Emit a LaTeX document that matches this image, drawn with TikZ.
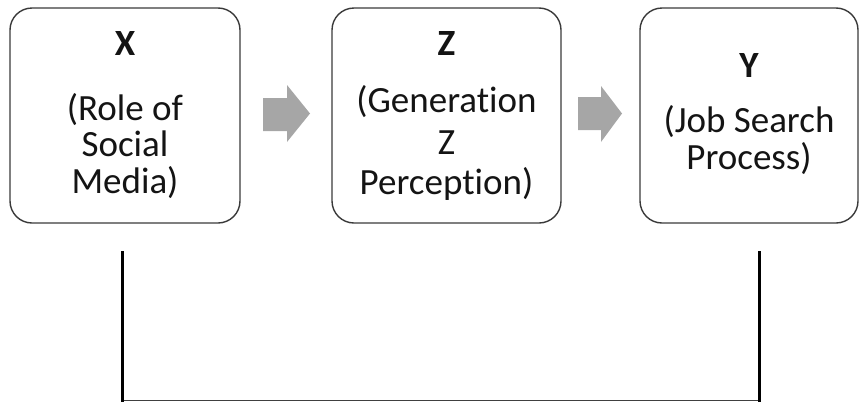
\documentclass[tikz,border=0pt]{standalone}
\usepackage{fontspec}
\setmainfont{Carlito}[Ligatures=NoCommon]
\definecolor{arrowgray}{HTML}{A6A6A6}
\definecolor{boxline}{HTML}{3A3A3A}
\definecolor{txt}{HTML}{141414}
\tikzset{
  box/.style={draw=boxline, line width=1.4pt, rounded corners=22pt},
  lbl/.style={anchor=base, inner sep=0pt, text=txt, font=\fontsize{37}{42}\selectfont},
  ttl/.style={lbl, font=\fontsize{37}{42}\selectfont\bfseries},
  blockarrow/.style={fill=arrowgray, draw=none},
  thickleg/.style={line width=3pt, black},
  thinbar/.style={line width=1.5pt, black!75},
}
\begin{document}
\begin{tikzpicture}[x=1pt,y=-1pt]
\useasboundingbox (0,0) rectangle (859,402);
% boxes
\draw[box] (10,8) rectangle (240,223);
\draw[box] (332,8) rectangle (561,223);
\draw[box] (640,8) rectangle (858,223);
% X texts
\node[ttl] (xt) at (125,55) {X};
\node[lbl] (x1) at (125,120) {(Role of};
\node[lbl] (x2) at (125,156) {Social};
\node[lbl] (x3) at (125,193) {Media)};
% Z texts
\node[ttl] (zt) at (446.5,55) {Z};
\node[lbl] (z1) at (446.5,112) {(Generation};
\node[lbl] (z2) at (446.5,154) {Z};
\node[lbl] (z3) at (446.5,194) {Perception)};
% Y texts
\node[ttl] (yt) at (749,77) {Y};
\node[lbl] (y1) at (749,132) {(Job Search};
\node[lbl] (y2) at (749,169) {Process)};
% block arrows
\fill[blockarrow] (263,98) -- (287,98) -- (287,85) -- (310,113.5) -- (287,142) -- (287,131) -- (263,131) -- cycle;
\fill[blockarrow] (578,97) -- (601,97) -- (601,86) -- (622,113.5) -- (601,142) -- (601,130) -- (578,130) -- cycle;
% bottom bracket
\coordinate (la) at (122,251);
\coordinate (lb) at (122,400.5);
\coordinate (rb) at (759,400.5);
\coordinate (ra) at (759,251);
\draw[thinbar] (lb) -- (rb);
\draw[thickleg] (la) -- ([yshift=-1.5pt]lb);
\draw[thickleg] (ra) -- ([yshift=-1.5pt]rb);
\end{tikzpicture}
\end{document}
